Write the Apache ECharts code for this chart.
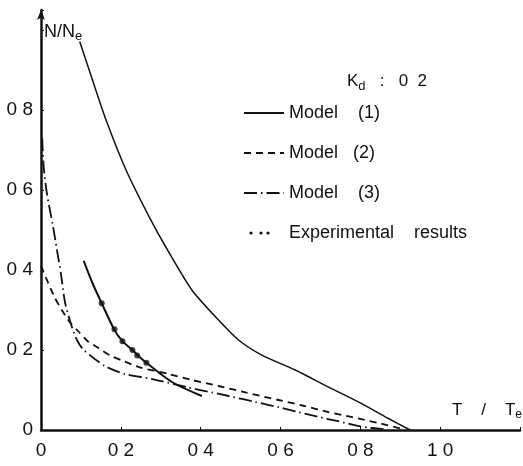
<!DOCTYPE html>
<html>
<head>
<meta charset="utf-8">
<script src="https://cdn.jsdelivr.net/npm/echarts@6/dist/echarts.min.js"></script>
<style>
  html, body { margin: 0; padding: 0; background: #fff; }
  #chart { width: 523px; height: 466px; }
</style>
</head>
<body>
<div id="chart"></div>
<script>
// tick labels (decimal points faded in the scan)
const xTicks = ['0', '0 2', '0 4', '0 6', '0 8', '1 0'];
const yTicks = ['0', '0 2', '0 4', '0 6', '0 8', ''];

// Model (1) - solid
const model1 = [[0.097, 0.971], [0.129, 0.875], [0.163, 0.775], [0.213, 0.65], [0.271, 0.533], [0.317, 0.45],
  [0.378, 0.35], [0.44, 0.28], [0.495, 0.225], [0.552, 0.188], [0.637, 0.15], [0.719, 0.108],
  [0.801, 0.067], [0.868, 0.03], [0.925, 0.0]];
// Model (2) - short dash
const model2 = [[0, 0.41], [0.017, 0.37], [0.035, 0.33], [0.052, 0.30], [0.072, 0.27], [0.095, 0.245],
  [0.117, 0.222], [0.144, 0.205], [0.172, 0.187], [0.2, 0.175], [0.246, 0.157], [0.32, 0.14],
  [0.378, 0.125], [0.445, 0.11], [0.512, 0.094], [0.595, 0.075], [0.66, 0.06], [0.719, 0.045],
  [0.78, 0.032], [0.843, 0.018], [0.9, 0.004]];
// Model (3) - long dash
const model3 = [[0.003, 0.73], [0.007, 0.655], [0.015, 0.59], [0.03, 0.51], [0.04, 0.45], [0.05, 0.39],
  [0.06, 0.32], [0.075, 0.265], [0.09, 0.225], [0.107, 0.2], [0.16, 0.16], [0.21, 0.14],
  [0.276, 0.128], [0.37, 0.106], [0.428, 0.094], [0.47, 0.085], [0.537, 0.07], [0.595, 0.057],
  [0.644, 0.045], [0.694, 0.033], [0.744, 0.022], [0.80, 0.009], [0.86, 0.002]];
// curve through experimental points
const expCurve = [[0.107, 0.423], [0.13, 0.365], [0.152, 0.317], [0.184, 0.25], [0.204, 0.222],
  [0.229, 0.2], [0.246, 0.183], [0.264, 0.168], [0.328, 0.12], [0.403, 0.085]];
// experimental results
const expPoints = [[0.152, 0.317], [0.184, 0.252], [0.204, 0.222], [0.229, 0.2], [0.241, 0.186], [0.264, 0.168]];

const ink = '#111';
const font = 'Liberation Sans';
const tickFont = "'Liberation Sans Narrow', 'Liberation Sans'";
const dotsIcon = 'path://M0,0h0.01v0.01h-0.01z M40,14h0.01v0.01h-0.01z ' +
  'M5.4,7a1.6,1.6 0 1,0 3.2,0a1.6,1.6 0 1,0 -3.2,0 ' +
  'M15.4,7a1.6,1.6 0 1,0 3.2,0a1.6,1.6 0 1,0 -3.2,0 ' +
  'M22.4,7a1.6,1.6 0 1,0 3.2,0a1.6,1.6 0 1,0 -3.2,0';

let myChart = echarts.init(document.getElementById('chart'));
let option = {
  animation: false,
  backgroundColor: '#fff',
  grid: { left: 41, right: 0, top: 10, bottom: 36 },
  xAxis: {
    type: 'value',
    min: 0,
    max: 1.2,
    interval: 0.2,
    axisLine: { lineStyle: { color: ink, width: 2.5 } },
    axisTick: { show: true, inside: true, length: 3, lineStyle: { color: ink } },
    splitLine: { show: false },
    axisLabel: {
      color: ink, fontFamily: tickFont, fontSize: 19, margin: 11,
      formatter: v => xTicks[Math.round(v / 0.2)] || ''
    }
  },
  yAxis: {
    type: 'value',
    min: 0,
    max: 1.05,
    interval: 0.2,
    axisLine: { show: true, symbol: ['none', 'arrow'], symbolSize: [6, 10], lineStyle: { color: ink, width: 2.5 } },
    axisTick: { show: true, inside: true, length: 3, lineStyle: { color: ink } },
    splitLine: { show: false },
    axisLabel: {
      color: ink, fontFamily: tickFont, fontSize: 19, margin: 8,
      formatter: v => yTicks[Math.round(v / 0.2)] || ''
    }
  },
  legend: {
    orient: 'vertical',
    left: 243,
    top: 104,
    padding: 0,
    itemWidth: 40,
    itemHeight: 14,
    itemGap: 22,
    selectedMode: false,
    itemStyle: { opacity: 0 },
    textStyle: { color: ink, fontFamily: font, fontSize: 18 },
    data: [
      { name: 'Model    (1)' },
      { name: 'Model   (2)' },
      { name: 'Model    (3)' },
      { name: 'Experimental    results', icon: dotsIcon, itemStyle: { color: ink, opacity: 1 } }
    ]
  },
  graphic: [
    {
      type: 'text', left: 44, top: 23,
      style: {
        text: '{a|N/N}{b|e}', fill: ink,
        rich: {
          a: { fontFamily: font, fontSize: 18, fill: ink },
          b: { fontFamily: font, fontSize: 13, fill: ink, padding: [9, 0, 0, 0] }
        }
      }
    },
    {
      type: 'text', left: 347, top: 73,
      style: {
        text: '{a|K}{b|d}{a|   :   0  2}', fill: ink,
        rich: {
          a: { fontFamily: font, fontSize: 17, fill: ink },
          b: { fontFamily: font, fontSize: 13, fill: ink, padding: [9, 0, 0, 0] }
        }
      }
    },
    {
      type: 'text', left: 452, top: 402,
      style: {
        text: '{a|T    /    T}{b|e}', fill: ink,
        rich: {
          a: { fontFamily: font, fontSize: 17, fill: ink },
          b: { fontFamily: font, fontSize: 12, fill: ink, padding: [9, 0, 0, 0] }
        }
      }
    }
  ],
  series: [
    {
      name: 'Model    (1)',
      type: 'line',
      data: model1,
      smooth: 0.25,
      symbol: 'none',
      lineStyle: { color: ink, width: 1.5 },
      itemStyle: { color: ink }
    },
    {
      name: 'Model   (2)',
      type: 'line',
      data: model2,
      smooth: 0.25,
      symbol: 'none',
      lineStyle: { color: ink, width: 1.8, type: [7, 5] },
      itemStyle: { color: ink }
    },
    {
      name: 'Model    (3)',
      type: 'line',
      data: model3,
      smooth: 0.25,
      symbol: 'none',
      lineStyle: { color: ink, width: 1.8, type: [13, 4, 1.5, 4] },
      itemStyle: { color: ink }
    },
    {
      name: 'expCurve',
      type: 'line',
      data: expCurve,
      smooth: 0.3,
      symbol: 'none',
      lineStyle: { color: ink, width: 2 },
      itemStyle: { color: ink }
    },
    {
      name: 'Experimental    results',
      type: 'scatter',
      data: expPoints,
      symbol: 'circle',
      symbolSize: 6,
      itemStyle: { color: ink }
    }
  ]
};
myChart.setOption(option);
</script>
</body>
</html>
